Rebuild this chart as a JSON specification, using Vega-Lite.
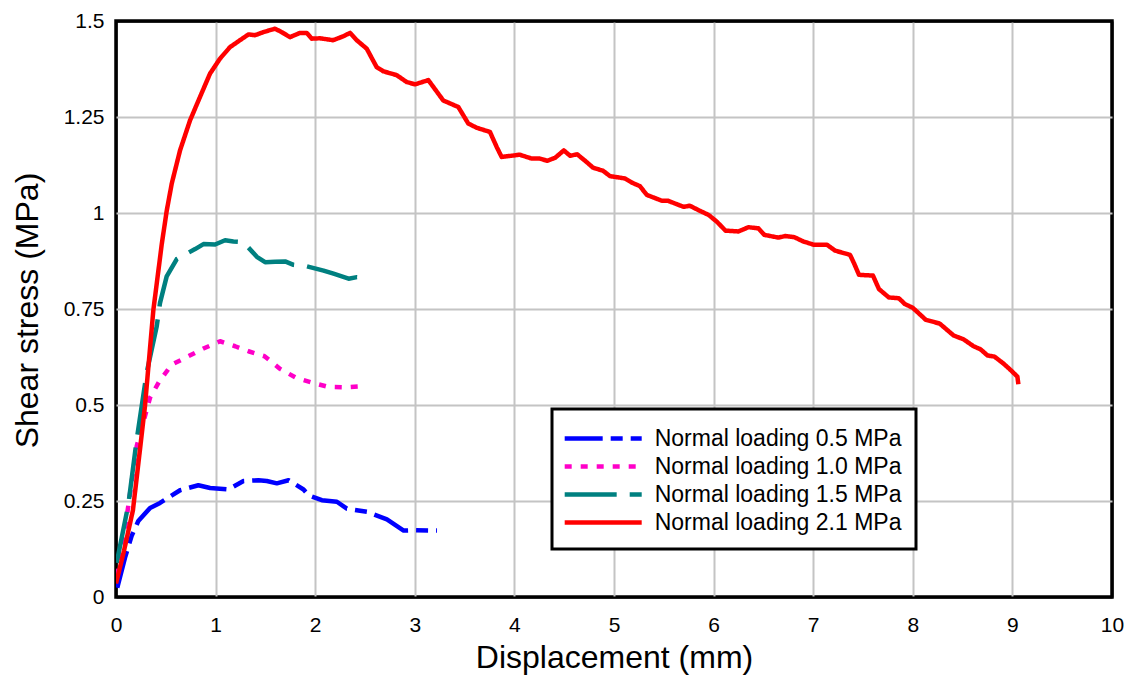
{
  "$schema": "https://vega.github.io/schema/vega-lite/v6.json",
  "width": 996,
  "height": 576,
  "autosize": {"type": "none"},
  "padding": {"left": 116, "top": 21, "right": 20, "bottom": 82},
  "background": "white",
  "config": {
    "view": {"stroke": "black", "strokeWidth": 3.5},
    "font": "Liberation Sans"
  },
  "datasets": {
    "d0": [
      {"series": "Normal loading 0.5 MPa", "x": 0.013, "y": 0.024},
      {"series": "Normal loading 0.5 MPa", "x": 0.09, "y": 0.102},
      {"series": "Normal loading 0.5 MPa", "x": 0.157, "y": 0.159},
      {"series": "Normal loading 0.5 MPa", "x": 0.224, "y": 0.198},
      {"series": "Normal loading 0.5 MPa", "x": 0.342, "y": 0.232},
      {"series": "Normal loading 0.5 MPa", "x": 0.442, "y": 0.245},
      {"series": "Normal loading 0.5 MPa", "x": 0.509, "y": 0.256},
      {"series": "Normal loading 0.5 MPa", "x": 0.643, "y": 0.278},
      {"series": "Normal loading 0.5 MPa", "x": 0.827, "y": 0.291},
      {"series": "Normal loading 0.5 MPa", "x": 0.945, "y": 0.284},
      {"series": "Normal loading 0.5 MPa", "x": 1.129, "y": 0.28},
      {"series": "Normal loading 0.5 MPa", "x": 1.28, "y": 0.302},
      {"series": "Normal loading 0.5 MPa", "x": 1.43, "y": 0.304},
      {"series": "Normal loading 0.5 MPa", "x": 1.514, "y": 0.302},
      {"series": "Normal loading 0.5 MPa", "x": 1.615, "y": 0.296},
      {"series": "Normal loading 0.5 MPa", "x": 1.732, "y": 0.304},
      {"series": "Normal loading 0.5 MPa", "x": 1.883, "y": 0.28},
      {"series": "Normal loading 0.5 MPa", "x": 1.933, "y": 0.265},
      {"series": "Normal loading 0.5 MPa", "x": 2.067, "y": 0.252},
      {"series": "Normal loading 0.5 MPa", "x": 2.218, "y": 0.248},
      {"series": "Normal loading 0.5 MPa", "x": 2.318, "y": 0.23},
      {"series": "Normal loading 0.5 MPa", "x": 2.519, "y": 0.222},
      {"series": "Normal loading 0.5 MPa", "x": 2.72, "y": 0.202},
      {"series": "Normal loading 0.5 MPa", "x": 2.888, "y": 0.173},
      {"series": "Normal loading 0.5 MPa", "x": 3.005, "y": 0.174},
      {"series": "Normal loading 0.5 MPa", "x": 3.223, "y": 0.173},

      {"series": "Normal loading 1.0 MPa", "x": 0.013, "y": 0.055},
      {"series": "Normal loading 1.0 MPa", "x": 0.09, "y": 0.176},
      {"series": "Normal loading 1.0 MPa", "x": 0.208, "y": 0.393},
      {"series": "Normal loading 1.0 MPa", "x": 0.342, "y": 0.519},
      {"series": "Normal loading 1.0 MPa", "x": 0.436, "y": 0.562},
      {"series": "Normal loading 1.0 MPa", "x": 0.559, "y": 0.605},
      {"series": "Normal loading 1.0 MPa", "x": 0.727, "y": 0.627},
      {"series": "Normal loading 1.0 MPa", "x": 0.878, "y": 0.647},
      {"series": "Normal loading 1.0 MPa", "x": 1.045, "y": 0.666},
      {"series": "Normal loading 1.0 MPa", "x": 1.196, "y": 0.653},
      {"series": "Normal loading 1.0 MPa", "x": 1.33, "y": 0.64},
      {"series": "Normal loading 1.0 MPa", "x": 1.491, "y": 0.627},
      {"series": "Normal loading 1.0 MPa", "x": 1.648, "y": 0.594},
      {"series": "Normal loading 1.0 MPa", "x": 1.806, "y": 0.571},
      {"series": "Normal loading 1.0 MPa", "x": 1.973, "y": 0.558},
      {"series": "Normal loading 1.0 MPa", "x": 2.134, "y": 0.547},
      {"series": "Normal loading 1.0 MPa", "x": 2.301, "y": 0.546},
      {"series": "Normal loading 1.0 MPa", "x": 2.469, "y": 0.549},

      {"series": "Normal loading 1.5 MPa", "x": 0.007, "y": 0.089},
      {"series": "Normal loading 1.5 MPa", "x": 0.124, "y": 0.241},
      {"series": "Normal loading 1.5 MPa", "x": 0.208, "y": 0.41},
      {"series": "Normal loading 1.5 MPa", "x": 0.308, "y": 0.584},
      {"series": "Normal loading 1.5 MPa", "x": 0.409, "y": 0.705},
      {"series": "Normal loading 1.5 MPa", "x": 0.442, "y": 0.766},
      {"series": "Normal loading 1.5 MPa", "x": 0.509, "y": 0.835},
      {"series": "Normal loading 1.5 MPa", "x": 0.61, "y": 0.88},
      {"series": "Normal loading 1.5 MPa", "x": 0.794, "y": 0.906},
      {"series": "Normal loading 1.5 MPa", "x": 0.878, "y": 0.919},
      {"series": "Normal loading 1.5 MPa", "x": 0.995, "y": 0.918},
      {"series": "Normal loading 1.5 MPa", "x": 1.095, "y": 0.929},
      {"series": "Normal loading 1.5 MPa", "x": 1.179, "y": 0.926},
      {"series": "Normal loading 1.5 MPa", "x": 1.28, "y": 0.924},
      {"series": "Normal loading 1.5 MPa", "x": 1.414, "y": 0.886},
      {"series": "Normal loading 1.5 MPa", "x": 1.497, "y": 0.872},
      {"series": "Normal loading 1.5 MPa", "x": 1.598, "y": 0.873},
      {"series": "Normal loading 1.5 MPa", "x": 1.698, "y": 0.874},
      {"series": "Normal loading 1.5 MPa", "x": 1.782, "y": 0.865},
      {"series": "Normal loading 1.5 MPa", "x": 1.916, "y": 0.861},
      {"series": "Normal loading 1.5 MPa", "x": 2.084, "y": 0.85},
      {"series": "Normal loading 1.5 MPa", "x": 2.184, "y": 0.842},
      {"series": "Normal loading 1.5 MPa", "x": 2.335, "y": 0.829},
      {"series": "Normal loading 1.5 MPa", "x": 2.419, "y": 0.833},
      {"series": "Normal loading 1.5 MPa", "x": 2.503, "y": 0.831},

      {"series": "Normal loading 2.1 MPa", "x": 0.0, "y": 0.035},
      {"series": "Normal loading 2.1 MPa", "x": 0.08, "y": 0.12},
      {"series": "Normal loading 2.1 MPa", "x": 0.17, "y": 0.226},
      {"series": "Normal loading 2.1 MPa", "x": 0.23, "y": 0.36},
      {"series": "Normal loading 2.1 MPa", "x": 0.29, "y": 0.495},
      {"series": "Normal loading 2.1 MPa", "x": 0.375, "y": 0.747},
      {"series": "Normal loading 2.1 MPa", "x": 0.46, "y": 0.92},
      {"series": "Normal loading 2.1 MPa", "x": 0.51, "y": 1.007},
      {"series": "Normal loading 2.1 MPa", "x": 0.56, "y": 1.077},
      {"series": "Normal loading 2.1 MPa", "x": 0.643, "y": 1.163},
      {"series": "Normal loading 2.1 MPa", "x": 0.743, "y": 1.241},
      {"series": "Normal loading 2.1 MPa", "x": 0.843, "y": 1.302},
      {"series": "Normal loading 2.1 MPa", "x": 0.944, "y": 1.363},
      {"series": "Normal loading 2.1 MPa", "x": 1.044, "y": 1.402},
      {"series": "Normal loading 2.1 MPa", "x": 1.145, "y": 1.432},
      {"series": "Normal loading 2.1 MPa", "x": 1.245, "y": 1.45},
      {"series": "Normal loading 2.1 MPa", "x": 1.33, "y": 1.465},
      {"series": "Normal loading 2.1 MPa", "x": 1.396, "y": 1.463},
      {"series": "Normal loading 2.1 MPa", "x": 1.479, "y": 1.471},
      {"series": "Normal loading 2.1 MPa", "x": 1.596, "y": 1.48},
      {"series": "Normal loading 2.1 MPa", "x": 1.664, "y": 1.471},
      {"series": "Normal loading 2.1 MPa", "x": 1.747, "y": 1.458},
      {"series": "Normal loading 2.1 MPa", "x": 1.847, "y": 1.469},
      {"series": "Normal loading 2.1 MPa", "x": 1.915, "y": 1.469},
      {"series": "Normal loading 2.1 MPa", "x": 1.965, "y": 1.454},
      {"series": "Normal loading 2.1 MPa", "x": 2.048, "y": 1.455},
      {"series": "Normal loading 2.1 MPa", "x": 2.18, "y": 1.45},
      {"series": "Normal loading 2.1 MPa", "x": 2.28, "y": 1.46},
      {"series": "Normal loading 2.1 MPa", "x": 2.35, "y": 1.469},
      {"series": "Normal loading 2.1 MPa", "x": 2.417, "y": 1.45},
      {"series": "Normal loading 2.1 MPa", "x": 2.517, "y": 1.428},
      {"series": "Normal loading 2.1 MPa", "x": 2.617, "y": 1.38},
      {"series": "Normal loading 2.1 MPa", "x": 2.684, "y": 1.369},
      {"series": "Normal loading 2.1 MPa", "x": 2.818, "y": 1.359},
      {"series": "Normal loading 2.1 MPa", "x": 2.919, "y": 1.341},
      {"series": "Normal loading 2.1 MPa", "x": 3.002, "y": 1.335},
      {"series": "Normal loading 2.1 MPa", "x": 3.136, "y": 1.346},
      {"series": "Normal loading 2.1 MPa", "x": 3.286, "y": 1.293},
      {"series": "Normal loading 2.1 MPa", "x": 3.437, "y": 1.276},
      {"series": "Normal loading 2.1 MPa", "x": 3.537, "y": 1.233},
      {"series": "Normal loading 2.1 MPa", "x": 3.621, "y": 1.222},
      {"series": "Normal loading 2.1 MPa", "x": 3.755, "y": 1.211},
      {"series": "Normal loading 2.1 MPa", "x": 3.822, "y": 1.172},
      {"series": "Normal loading 2.1 MPa", "x": 3.872, "y": 1.146},
      {"series": "Normal loading 2.1 MPa", "x": 4.0, "y": 1.15},
      {"series": "Normal loading 2.1 MPa", "x": 4.05, "y": 1.152},
      {"series": "Normal loading 2.1 MPa", "x": 4.17, "y": 1.142},
      {"series": "Normal loading 2.1 MPa", "x": 4.25, "y": 1.142},
      {"series": "Normal loading 2.1 MPa", "x": 4.33, "y": 1.136},
      {"series": "Normal loading 2.1 MPa", "x": 4.41, "y": 1.144},
      {"series": "Normal loading 2.1 MPa", "x": 4.496, "y": 1.163},
      {"series": "Normal loading 2.1 MPa", "x": 4.56, "y": 1.149},
      {"series": "Normal loading 2.1 MPa", "x": 4.63, "y": 1.153},
      {"series": "Normal loading 2.1 MPa", "x": 4.71, "y": 1.136},
      {"series": "Normal loading 2.1 MPa", "x": 4.79, "y": 1.118},
      {"series": "Normal loading 2.1 MPa", "x": 4.89, "y": 1.11},
      {"series": "Normal loading 2.1 MPa", "x": 4.96, "y": 1.096},
      {"series": "Normal loading 2.1 MPa", "x": 5.11, "y": 1.09},
      {"series": "Normal loading 2.1 MPa", "x": 5.18, "y": 1.079},
      {"series": "Normal loading 2.1 MPa", "x": 5.26, "y": 1.07},
      {"series": "Normal loading 2.1 MPa", "x": 5.33, "y": 1.047},
      {"series": "Normal loading 2.1 MPa", "x": 5.48, "y": 1.032},
      {"series": "Normal loading 2.1 MPa", "x": 5.54, "y": 1.032},
      {"series": "Normal loading 2.1 MPa", "x": 5.7, "y": 1.016},
      {"series": "Normal loading 2.1 MPa", "x": 5.76, "y": 1.019},
      {"series": "Normal loading 2.1 MPa", "x": 5.86, "y": 1.006},
      {"series": "Normal loading 2.1 MPa", "x": 5.95, "y": 0.995},
      {"series": "Normal loading 2.1 MPa", "x": 6.03, "y": 0.978},
      {"series": "Normal loading 2.1 MPa", "x": 6.12, "y": 0.954},
      {"series": "Normal loading 2.1 MPa", "x": 6.25, "y": 0.952},
      {"series": "Normal loading 2.1 MPa", "x": 6.35, "y": 0.963},
      {"series": "Normal loading 2.1 MPa", "x": 6.45, "y": 0.96},
      {"series": "Normal loading 2.1 MPa", "x": 6.51, "y": 0.943},
      {"series": "Normal loading 2.1 MPa", "x": 6.65, "y": 0.936},
      {"series": "Normal loading 2.1 MPa", "x": 6.72, "y": 0.94},
      {"series": "Normal loading 2.1 MPa", "x": 6.81, "y": 0.937},
      {"series": "Normal loading 2.1 MPa", "x": 6.9, "y": 0.926},
      {"series": "Normal loading 2.1 MPa", "x": 7.01, "y": 0.917},
      {"series": "Normal loading 2.1 MPa", "x": 7.14, "y": 0.917},
      {"series": "Normal loading 2.1 MPa", "x": 7.22, "y": 0.902},
      {"series": "Normal loading 2.1 MPa", "x": 7.37, "y": 0.891},
      {"series": "Normal loading 2.1 MPa", "x": 7.41, "y": 0.869},
      {"series": "Normal loading 2.1 MPa", "x": 7.46, "y": 0.839},
      {"series": "Normal loading 2.1 MPa", "x": 7.6, "y": 0.837},
      {"series": "Normal loading 2.1 MPa", "x": 7.66, "y": 0.802},
      {"series": "Normal loading 2.1 MPa", "x": 7.76, "y": 0.78},
      {"series": "Normal loading 2.1 MPa", "x": 7.86, "y": 0.778},
      {"series": "Normal loading 2.1 MPa", "x": 7.92, "y": 0.763},
      {"series": "Normal loading 2.1 MPa", "x": 8.0, "y": 0.753},
      {"series": "Normal loading 2.1 MPa", "x": 8.13, "y": 0.722},
      {"series": "Normal loading 2.1 MPa", "x": 8.27, "y": 0.712},
      {"series": "Normal loading 2.1 MPa", "x": 8.41, "y": 0.681},
      {"series": "Normal loading 2.1 MPa", "x": 8.51, "y": 0.671},
      {"series": "Normal loading 2.1 MPa", "x": 8.61, "y": 0.653},
      {"series": "Normal loading 2.1 MPa", "x": 8.68, "y": 0.645},
      {"series": "Normal loading 2.1 MPa", "x": 8.75, "y": 0.629},
      {"series": "Normal loading 2.1 MPa", "x": 8.82, "y": 0.626},
      {"series": "Normal loading 2.1 MPa", "x": 8.91, "y": 0.608},
      {"series": "Normal loading 2.1 MPa", "x": 8.97, "y": 0.594},
      {"series": "Normal loading 2.1 MPa", "x": 9.05, "y": 0.574},
      {"series": "Normal loading 2.1 MPa", "x": 9.06, "y": 0.554}
    ]
  },
  "data": {"name": "d0"},
  "mark": {"type": "line", "strokeWidth": 4.5, "strokeCap": "butt", "strokeJoin": "round", "clip": true},
  "encoding": {
    "x": {
      "field": "x", "type": "quantitative",
      "scale": {"domain": [0, 10], "nice": false},
      "axis": {
        "title": "Displacement (mm)",
        "values": [0, 1, 2, 3, 4, 5, 6, 7, 8, 9, 10],
        "grid": true,
        "gridColor": {"condition": {"test": "datum.value === 0 || datum.value === 10", "value": "black"}, "value": "#c4c4c4"},
        "gridWidth": 2,
        "domain": false,
        "ticks": false,
        "labelFlush": false,
        "labelFont": "Liberation Sans",
        "labelFontSize": 21,
        "labelColor": "black",
        "labelPadding": 17,
        "titleFont": "Liberation Sans",
        "titleFontSize": 32,
        "titleFontWeight": "normal",
        "titleColor": "black",
        "titleY": 70,
        "titleBaseline": "alphabetic"
      }
    },
    "y": {
      "field": "y", "type": "quantitative",
      "scale": {"domain": [0, 1.5], "nice": false},
      "axis": {
        "title": "Shear stress (MPa)",
        "values": [0, 0.25, 0.5, 0.75, 1, 1.25, 1.5],
        "format": ".2~f",
        "grid": true,
        "gridColor": {"condition": {"test": "datum.value === 0 || datum.value === 1.5", "value": "black"}, "value": "#c4c4c4"},
        "gridWidth": 2,
        "domain": false,
        "ticks": false,
        "labelFlush": false,
        "labelFont": "Liberation Sans",
        "labelFontSize": 21,
        "labelColor": "black",
        "labelPadding": 12,
        "titleFont": "Liberation Sans",
        "titleFontSize": 32,
        "titleFontWeight": "normal",
        "titleColor": "black",
        "titleX": -79,
        "titleY": 289,
        "titleAlign": "center",
        "titleBaseline": "alphabetic"
      }
    },
    "color": {
      "field": "series", "type": "nominal",
      "scale": {
        "domain": ["Normal loading 0.5 MPa", "Normal loading 1.0 MPa", "Normal loading 1.5 MPa", "Normal loading 2.1 MPa"],
        "range": ["#0000ff", "#ff00c8", "#008080", "#ff0000"]
      },
      "legend": {
        "title": null, "orient": "none", "legendX": 436, "legendY": 388,
        "fillColor": "white", "strokeColor": "black",
        "padding": 14, "rowPadding": 0,
        "labelFont": "Liberation Sans", "labelFontSize": 23, "labelColor": "black", "labelLimit": 400, "labelOffset": 36,
        "symbolType": "M-3,0H3", "symbolSize": 659, "symbolStrokeWidth": 4.5, "symbolOffset": 21.7,
        "encode": {"legend": {"update": {"strokeWidth": {"value": 3}}}}
      }
    },
    "strokeDash": {
      "field": "series", "type": "nominal",
      "scale": {
        "domain": ["Normal loading 0.5 MPa", "Normal loading 1.0 MPa", "Normal loading 1.5 MPa", "Normal loading 2.1 MPa"],
        "range": [[38, 8, 12, 8], [7, 9], [52, 13], [1, 0]]
      },
      "legend": {
        "title": null, "orient": "none", "legendX": 436, "legendY": 388,
        "fillColor": "white", "strokeColor": "black",
        "padding": 14, "rowPadding": 0,
        "labelFont": "Liberation Sans", "labelFontSize": 23, "labelColor": "black", "labelLimit": 400, "labelOffset": 36,
        "symbolType": "M-3,0H3", "symbolSize": 659, "symbolStrokeWidth": 4.5, "symbolOffset": 21.7,
        "encode": {"legend": {"update": {"strokeWidth": {"value": 3}}}}
      }
    }
  }
}
